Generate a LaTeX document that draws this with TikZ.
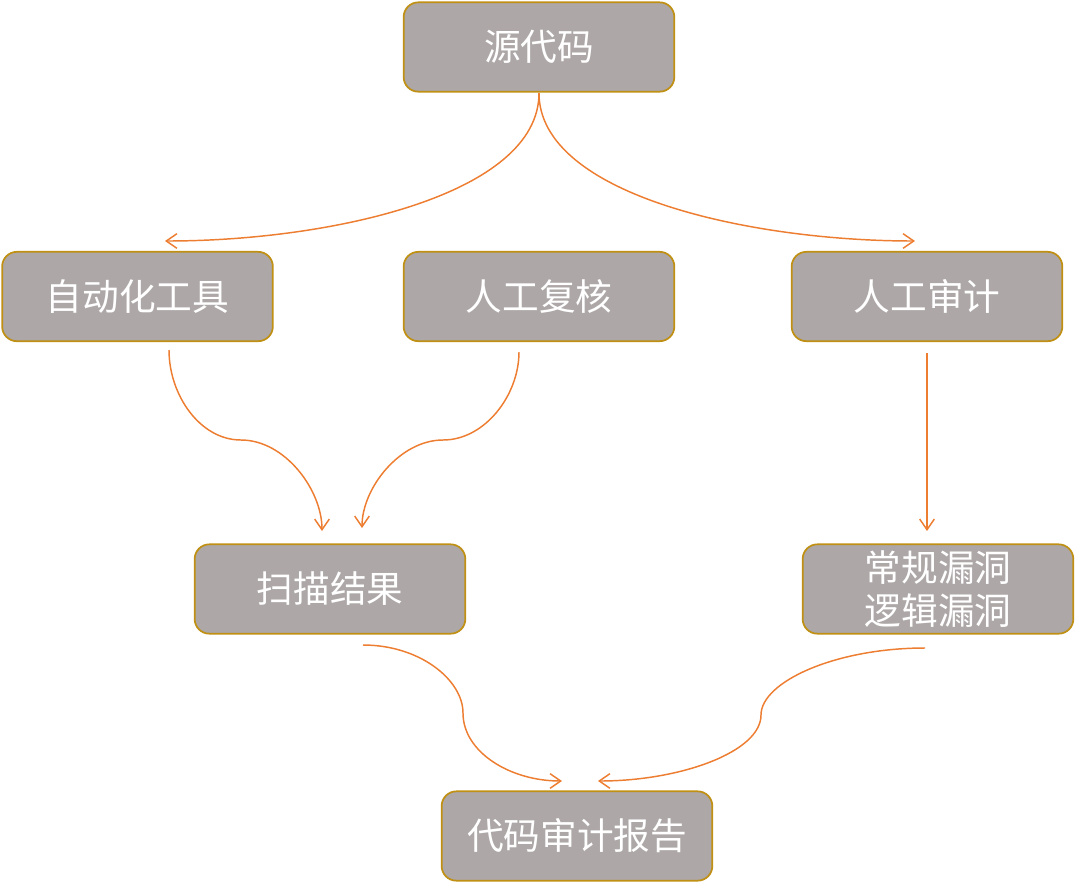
\documentclass[tikz,border=0pt]{standalone}
\usepackage{fontspec}
\setmainfont{Noto Sans CJK SC}
\usetikzlibrary{arrows.meta}
\definecolor{boxfill}{RGB}{173,168,167}
\definecolor{boxline}{RGB}{191,144,20}
\definecolor{arr}{RGB}{237,125,49}
\tikzset{
  box/.style={draw=boxline, fill=boxfill, line width=1.3pt, rounded corners=11pt,
    minimum width=203pt, minimum height=67pt, inner sep=0pt, text=white,
    font=\fontsize{27.5}{32}\selectfont, align=center},
  conn/.style={draw=arr, line width=1.1pt, -{Straight Barb[length=8pt,width=11pt,line width=1.1pt]}}
}
\begin{document}
\begin{tikzpicture}[x=0.75pt,y=-0.75pt]
\useasboundingbox (0,0) rectangle (1076,883);
\node[box] (src) at (539,47) {源代码};
\node[box] (auto) at (137.5,296.5) {自动化工具};
\node[box] (review) at (539,296.5) {人工复核};
\node[box] (audit) at (927,296.5) {人工审计};
\node[box] (scan) at (330,589) {扫描结果};
\node[box] (vuln) at (938,589) {常规漏洞\\逻辑漏洞};
\node[box] (report) at (577,836) {代码审计报告};

\coordinate (srcOut) at (539,93);
\coordinate (autoIn) at (165,241);
\coordinate (auditIn) at (915,241);
\coordinate (autoOut) at (169,350);
\coordinate (autoMid) at (241,440);
\coordinate (scanInA) at (322,531);
\coordinate (reviewOut) at (519,352);
\coordinate (reviewMid) at (443,440);
\coordinate (scanInB) at (362,528);
\coordinate (auditOut) at (927,353);
\coordinate (vulnIn) at (927,531);
\coordinate (scanOut) at (363,645);
\coordinate (scanMid) at (463,713);
\coordinate (reportInA) at (562,781);
\coordinate (vulnOut) at (925,648);
\coordinate (vulnMid) at (761,715);
\coordinate (reportInB) at (598,781);

\draw[conn] (srcOut) .. controls (539,195) and (330,241) .. (autoIn);
\draw[conn] (srcOut) .. controls (539,195) and (750,241) .. (auditIn);
\draw[conn] (autoOut) .. controls (169,395) and (200,440) .. (autoMid) .. controls (285,440) and (322,490) .. (scanInA);
\draw[conn] (reviewOut) .. controls (519,395) and (485,440) .. (reviewMid) .. controls (400,440) and (362,488) .. (scanInB);
\draw[conn] (auditOut) -- (vulnIn);
\draw[conn] (scanOut) .. controls (420,645) and (463,680) .. (scanMid) .. controls (463,752) and (510,781) .. (reportInA);
\draw[conn] (vulnOut) .. controls (835,648) and (761,682) .. (vulnMid) .. controls (761,752) and (680,781) .. (reportInB);
\end{tikzpicture}
\end{document}
